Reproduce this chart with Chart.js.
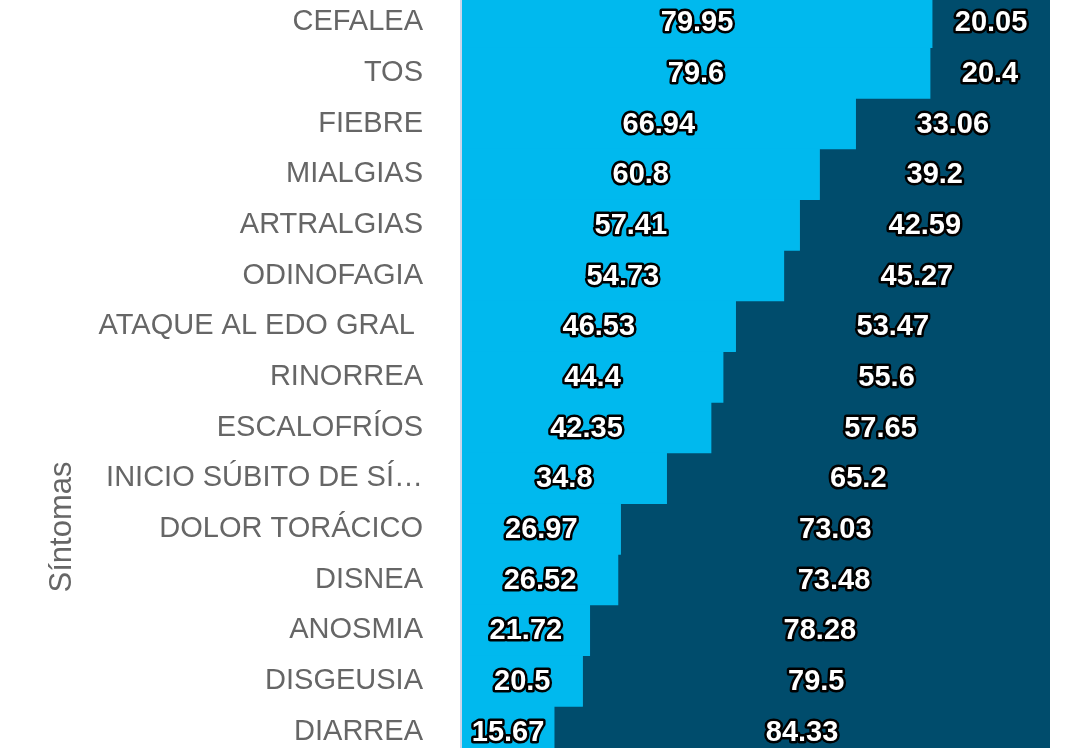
<!DOCTYPE html>
<html>
<head>
<meta charset="utf-8">
<script src="https://cdn.jsdelivr.net/npm/chart.js@4/dist/chart.umd.min.js"></script>
<style>
  html, body { margin: 0; padding: 0; background: #fff; overflow: hidden; }
  #wrap { position: absolute; left: 0; top: -3px; width: 1091px; height: 760px; }
</style>
</head>
<body>
<div id="wrap"><canvas id="myChart"></canvas></div>
<script>
// categories (top to bottom)
const sintomas = [
  'CEFALEA', 'TOS', 'FIEBRE', 'MIALGIAS', 'ARTRALGIAS', 'ODINOFAGIA',
  'ATAQUE AL EDO GRAL ', 'RINORREA', 'ESCALOFRÍOS', 'INICIO SÚBITO DE SÍ…',
  'DOLOR TORÁCICO', 'DISNEA', 'ANOSMIA', 'DISGEUSIA', 'DIARREA'
];
// porcentaje de cada serie
const serieSi = [79.95, 79.6, 66.94, 60.8, 57.41, 54.73, 46.53, 44.4, 42.35, 34.8, 26.97, 26.52, 21.72, 20.5, 15.67];
const serieNo = [20.05, 20.4, 33.06, 39.2, 42.59, 45.27, 53.47, 55.6, 57.65, 65.2, 73.03, 73.48, 78.28, 79.5, 84.33];

const stadistic = document.getElementById('myChart');

// labels with outline inside each bar
const outlineLabels = {
  id: 'outlineLabels',
  afterDatasetsDraw(chart) {
    const ctx = chart.ctx;
    ctx.save();
    ctx.font = 'bold 29px "Liberation Sans", Arial, sans-serif';
    ctx.textAlign = 'center';
    ctx.textBaseline = 'middle';
    ctx.lineJoin = 'round';
    ctx.lineWidth = 5;
    chart.data.datasets.forEach((ds, i) => {
      chart.getDatasetMeta(i).data.forEach((bar, j) => {
        const x = (bar.x + bar.base) / 2;
        const txt = String(ds.data[j]);
        ctx.strokeStyle = '#000';
        ctx.strokeText(txt, x, bar.y + 1);
        ctx.fillStyle = '#fff';
        ctx.fillText(txt, x, bar.y + 1);
      });
    });
    ctx.restore();
  }
};

// y axis title (the chart is cut, so it's not centered) + axis line
const axisTitle = {
  id: 'axisTitle',
  afterDraw(chart) {
    const ctx = chart.ctx;
    const area = chart.chartArea;
    ctx.save();
    ctx.fillStyle = '#ccd6eb';
    ctx.fillRect(area.left - 2, area.top, 2, area.bottom - area.top);
    ctx.translate(62, 530);
    ctx.rotate(-Math.PI / 2);
    ctx.font = '31px "Liberation Sans", Arial, sans-serif';
    ctx.fillStyle = '#666666';
    ctx.textAlign = 'center';
    ctx.textBaseline = 'middle';
    ctx.fillText('Síntomas', 0, 0);
    ctx.restore();
  }
};

new Chart(stadistic, {
  type: 'bar',
  data: {
    labels: sintomas,
    datasets: [{
      label: 'Sí',
      data: serieSi,
      backgroundColor: '#00b9ee',
      barPercentage: 1,
      categoryPercentage: 1,
      borderWidth: 0
    }, {
      label: 'No',
      data: serieNo,
      backgroundColor: '#004c6c',
      barPercentage: 1,
      categoryPercentage: 1,
      borderWidth: 0
    }]
  },
  options: {
    indexAxis: 'y',
    responsive: true,
    maintainAspectRatio: false,
    animation: false,
    layout: { padding: { left: 0, right: 41, top: 0, bottom: 0 } },
    plugins: {
      legend: { display: false },
      tooltip: { enabled: false }
    },
    scales: {
      x: {
        stacked: true,
        min: 0,
        max: 100,
        display: false
      },
      y: {
        stacked: true,
        afterFit: (scale) => {
          scale.width = 462;
          scale.paddingTop = 0;
          scale.paddingBottom = 0;
        },
        grid: { display: false, drawTicks: false },
        border: { display: false },
        ticks: {
          autoSkip: false,
          padding: 39,
          color: '#666666',
          font: { size: 29, family: '"Liberation Sans", Arial, sans-serif' }
        }
      }
    }
  },
  plugins: [outlineLabels, axisTitle]
});
</script>
</body>
</html>
